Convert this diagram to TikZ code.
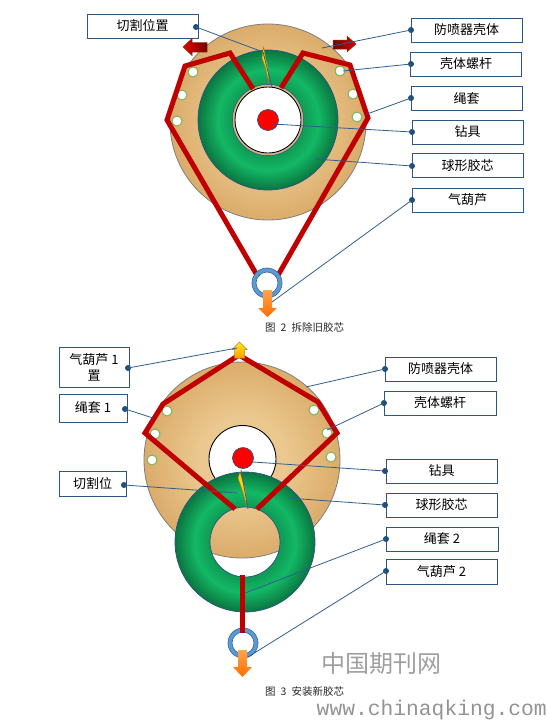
\documentclass[tikz,border=0pt]{standalone}
\usepackage{fontspec}
\setmainfont{Noto Sans CJK SC}
\newfontfamily\wmmono{Liberation Mono}
\definecolor{tanA}{HTML}{EBC88F}
\definecolor{tanB}{HTML}{DBAC6B}
\definecolor{grnA}{HTML}{0E9A55}
\definecolor{grnB}{HTML}{13B865}
\definecolor{grnC}{HTML}{0A7540}
\definecolor{boxblue}{HTML}{2C5683}
\definecolor{leader}{HTML}{2F5F8F}
\definecolor{dotblue}{HTML}{1F4E79}
\definecolor{rope}{HTML}{C00000}
\definecolor{ringblue}{HTML}{5B9BD5}
\definecolor{ringedge}{HTML}{3E6E9E}
\definecolor{studedge}{HTML}{7DB356}
\pgfdeclareradialshading{tanshade}{\pgfpointorigin}{color(0bp)=(tanA); color(11bp)=(tanA); color(25bp)=(tanB); color(50bp)=(tanB)}
\pgfdeclareradialshading{grnshade}{\pgfpointorigin}{color(0bp)=(grnA); color(12.5bp)=(grnA); color(18bp)=(grnB); color(25bp)=(grnC); color(50bp)=(grnC)}
\tikzset{
  lbl/.style={draw=boxblue,line width=0.9pt,fill=white,inner sep=0pt,align=center,font=\fontsize{13}{16}\selectfont,text=black},
  ddot/.style={circle,fill=dotblue,inner sep=0pt,minimum size=6pt},
  lead/.style={leader,line width=0.8pt},
  ropeline/.style={rope,line width=5pt,miter limit=10},
  stud/.style={fill=white,draw=studedge,line width=1pt},
  bodyedge/.style={draw=gray,line width=0.8pt},
  greenedge/.style={draw=boxblue,line width=0.7pt},
  caption/.style={anchor=west,inner sep=0pt,font=\fontsize{10.5}{12}\selectfont,text=black!85},
  bolt/.style={fill=yellow!70!orange,draw=orange!80!black,line width=0.3pt},
  orangearrow/.style={top color=orange!70!white,bottom color=orange!85!red,draw=none},
  ringout/.style={draw=ringedge,line width=0.7pt,fill=ringblue,even odd rule},
}
\begin{document}
\begin{tikzpicture}[x=1pt,y=-1pt]
\useasboundingbox (0,0) rectangle (547,721);
% ---------- Figure 2 ----------
\shade[shading=tanshade] (268,122) circle[radius=98];
\draw[bodyedge] (268,122) circle[radius=98];
\draw[greenedge,fill=white] (268,120) circle[radius=35.5];
\shade[shading=grnshade,even odd rule] (268,120) circle[radius=70] (268,120) circle[radius=35.5];
\draw[greenedge] (268,120) circle[radius=70];
\draw[greenedge] (268,120) circle[radius=35.5];
\fill[tanA!90!black,even odd rule] (268,120) circle[radius=35.2] (268,120) circle[radius=33.5];
\draw[black,line width=0.9pt,fill=white] (268,120) circle[radius=33];
\node[circle,fill=red,draw=boxblue,line width=0.7pt,inner sep=0pt,minimum size=21pt] (drillA) at (268,120) {};
\foreach \p in {(193,72),(182,95),(177,121),(340,71),(353,94),(357,117)}
  \draw[stud] \p circle[radius=5];
\fill[bolt] (263.5,47) -- (262,58) -- (266,69) -- (269,84) -- (268,68) -- (265.5,58) -- cycle;
% rope
\draw[ropeline] (253,89) -- (230,53) -- (185,66) -- (167,120) -- (258,277);
\draw[ropeline] (281,88) -- (303,53) -- (350,65) -- (368,118) -- (277,277);
% ring and arrows
\path[ringout] (267,283) circle[radius=15] (267,283) circle[radius=11];
\shade[orangearrow] (263,290) -- (272,290) -- (272,308) -- (277,308) -- (267.5,317) -- (258,308) -- (263,308) -- cycle;
\shade[left color=red!90!black,right color=red!45!black,draw=orange!50!black,line width=0.5pt]
  (183,47) -- (192,38.5) -- (192,42.5) -- (207,42.5) -- (207,52) -- (192,52) -- (192,55.5) -- cycle;
\shade[left color=red!45!black,right color=red!85!black,draw=orange!50!black,line width=0.5pt]
  (356,44) -- (347,36) -- (347,40) -- (333,40) -- (333,49) -- (347,49) -- (347,52) -- cycle;
% targets
\coordinate (tA1a) at (263,52);
\coordinate (tA1b) at (272,87);
\coordinate (tA2) at (322,48);
\coordinate (tA3) at (343,71);
\coordinate (tA4) at (367,114);
\coordinate (tA5) at (272,124);
\coordinate (tA6) at (315,159);
\coordinate (tA7) at (272,302);
% labels
\node[lbl,minimum width=111pt,minimum height=24pt] (a1) at (142.5,26) {切割位置};
\node[lbl,minimum width=111pt,minimum height=24pt] (a2) at (466.5,30) {防喷器壳体};
\node[lbl,minimum width=111pt,minimum height=24pt] (a3) at (466,64) {壳体螺杆};
\node[lbl,minimum width=111pt,minimum height=24pt] (a4) at (466.5,98.5) {绳套};
\node[lbl,minimum width=111pt,minimum height=24pt] (a5) at (467.5,132) {钻具};
\node[lbl,minimum width=111pt,minimum height=24pt] (a6) at (467.5,165.5) {球形胶芯};
\node[lbl,minimum width=111pt,minimum height=24pt] (a7) at (467.5,200) {气葫芦};
\node[ddot] (da1) at (196,27) {};
\node[ddot] (da2) at (411,30) {};
\node[ddot] (da3) at (411,64) {};
\node[ddot] (da4) at (411,98) {};
\node[ddot] (da5) at (412,132) {};
\node[ddot] (da6) at (412,166) {};
\node[ddot] (da7) at (412,200) {};
\draw[lead] (da1.center) -- (tA1a) -- (tA1b);
\draw[lead] (da2.center) -- (tA2);
\draw[lead] (da3.center) -- (tA3);
\draw[lead] (da4.center) -- (tA4);
\draw[lead] (da5.center) -- (tA5);
\draw[lead] (da6.center) -- (tA6);
\draw[lead] (da7.center) -- (tA7);
\node[caption] (capA) at (265,327) {图\hspace{5pt}2\hspace{5pt}拆除旧胶芯};
% ---------- Figure 3 ----------
\shade[shading=tanshade] (242,460) circle[radius=98];
\draw[bodyedge] (242,460) circle[radius=98];
\draw[black,line width=0.9pt,fill=white] (242.5,459) circle[radius=33.5];
\node[circle,fill=red,draw=boxblue,line width=0.7pt,inner sep=0pt,minimum size=21pt] (drillB) at (243,458) {};
\foreach \p in {(167,411),(155,434),(152,460),(314,410),(327,433),(331,457)}
  \draw[stud] \p circle[radius=5];
\shade[shading=grnshade,even odd rule] (245,542) circle[radius=70] (245,542) circle[radius=35];
\draw[greenedge] (245,542) circle[radius=70];
\draw[greenedge] (245,542) circle[radius=35];
\fill[bolt] (240,472) -- (238,478) -- (243,492) -- (247,507) -- (245.5,490) -- (242,479) -- cycle;
\draw[lead] (241,470) -- (248,509);
\path[ringout] (243,643) circle[radius=15] (243,643) circle[radius=11];
\draw[ropeline] (235,509) -- (145,433) -- (163,404) -- (239,355) -- (318,402) -- (337,433) -- (257,509);
\draw[ropeline] (242,575) -- (242,633);
\shade[orangearrow] (238,650) -- (247,650) -- (247,667) -- (252,667) -- (242.5,677) -- (233,667) -- (238,667) -- cycle;
\shade[top color=yellow!85!orange,bottom color=orange!75!yellow,draw=orange!40!gray,line width=0.5pt]
  (239.5,342) -- (247,349.5) -- (244.5,349.5) -- (244.5,358) -- (234.5,358) -- (234.5,349.5) -- (232,349.5) -- cycle;
\coordinate (tB1) at (237,348);
\coordinate (tB2) at (153,418);
\coordinate (tB3) at (237,493);
\coordinate (tB4) at (306,387);
\coordinate (tB5) at (327,430);
\coordinate (tB6) at (253,462);
\coordinate (tB7) at (288,498);
\coordinate (tB8) at (245,593);
\coordinate (tB9) at (248,657);
\node[lbl,minimum width=70pt,minimum height=40pt] (b1) at (94,367) {气葫芦 1\\置};
\node[lbl,minimum width=68pt,minimum height=28pt] (b2) at (93,408) {绳套 1};
\node[lbl,minimum width=67pt,minimum height=25pt] (b3) at (92.5,483.5) {切割位};
\node[lbl,minimum width=111pt,minimum height=24pt] (b4) at (440.5,369) {防喷器壳体};
\node[lbl,minimum width=112pt,minimum height=24pt] (b5) at (440,403) {壳体螺杆};
\node[lbl,minimum width=111pt,minimum height=24pt] (b6) at (441.5,471) {钻具};
\node[lbl,minimum width=111pt,minimum height=24pt] (b7) at (441.5,505) {球形胶芯};
\node[lbl,minimum width=112pt,minimum height=24pt] (b8) at (442,539) {绳套 2};
\node[lbl,minimum width=111pt,minimum height=25pt] (b9) at (441.5,571.5) {气葫芦 2};
\node[ddot] (db1) at (128,368) {};
\node[ddot] (db2) at (125,409) {};
\node[ddot] (db3) at (124,485) {};
\node[ddot] (db4) at (385,369) {};
\node[ddot] (db5) at (384,403) {};
\node[ddot] (db6) at (385,471) {};
\node[ddot] (db7) at (385,505) {};
\node[ddot] (db8) at (386,539) {};
\node[ddot] (db9) at (386,571) {};
\draw[lead] (db1.center) -- (tB1);
\draw[lead] (db2.center) -- (tB2);
\draw[lead] (db3.center) -- (tB3);
\draw[lead] (db4.center) -- (tB4);
\draw[lead] (db5.center) -- (tB5);
\draw[lead] (db6.center) -- (tB6);
\draw[lead] (db7.center) -- (tB7);
\draw[lead] (db8.center) -- (tB8);
\draw[lead] (db9.center) -- (tB9);
\node[caption] (capB) at (265,692) {图\hspace{5pt}3\hspace{5pt}安装新胶芯};
% watermark
\node[inner sep=0pt,font=\fontsize{24}{28}\selectfont,text=gray!75] (wm1) at (381,663) {中国期刊网};
\node[anchor=east,inner sep=0pt,font=\wmmono\fontsize{21.3}{24}\selectfont,text=gray!85] (wm2) at (547,710) {www.chinaqking.com};
\end{tikzpicture}
\end{document}
